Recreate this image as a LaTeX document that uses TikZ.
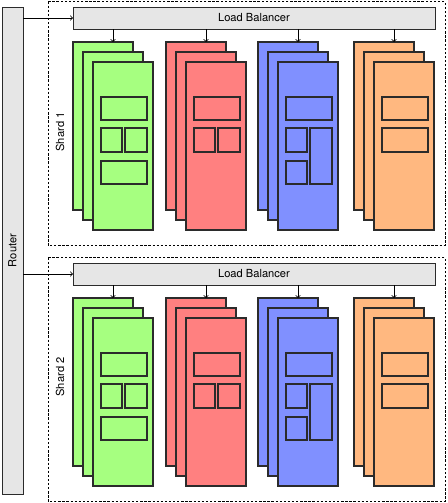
\documentclass[tikz,border=0pt]{standalone}
\usepackage{fontspec}
\setmainfont{TeX Gyre Heros}
\usepackage{graphicx}
\usetikzlibrary{positioning}
\definecolor{srvgreen}{HTML}{A6FF80}
\definecolor{srvred}{HTML}{FF8080}
\definecolor{srvblue}{HTML}{8090FF}
\definecolor{srvorange}{HTML}{FFB880}
\definecolor{boxgray}{HTML}{E6E6E6}
\definecolor{edge}{HTML}{2B2B2B}
\def\pxu{0.03cm}
\tikzset{
  card/.style={draw=edge,line width=0.9pt,anchor=north west,inner sep=0pt,outer sep=0pt,
    minimum width=60*\pxu,minimum height=168*\pxu},
  part/.style={draw=edge,line width=0.9pt},
  bar/.style={draw=edge,fill=boxgray,line width=0.8pt,inner sep=0pt,outer sep=0pt,
    font=\fontsize{9.5}{11}\selectfont},
  shardbox/.style={draw,dash pattern=on 2pt off 1.5pt,line width=0.7pt},
  lbl/.style={font=\fontsize{9.5}{11}\selectfont}
}
\begin{document}
\begin{tikzpicture}[x=\pxu,y=-\pxu]
\useasboundingbox (0,0) rectangle (447,503);
\node[bar,minimum width=21*\pxu,minimum height=487*\pxu] (router) at (12.5,250.5) {\rotatebox{90}{Router}};
% two shards, each behind its own balancer
\foreach \s/\dy/\ly in {1/0/132,2/256/377} {
  \draw[shardbox] (48,1.5+\dy) rectangle (445,245.5+\dy);
  \node[lbl,rotate=90] (shard\s) at (60,\ly) {Shard \s};
  \node[bar,minimum width=362*\pxu,minimum height=22*\pxu] (lb\s) at (254,18+\dy) {Load Balancer};
  \draw[->,line width=0.7pt] (router.east |- lb\s.west) -- (lb\s.west);
  \foreach \c/\x [count=\k] in {srvgreen/73,srvred/166,srvblue/258,srvorange/354} {
    \node[card,fill=\c] (b\s\k) at (\x,42+\dy) {};
    \node[card,fill=\c] (m\s\k) at (\x+10,52+\dy) {};
    \node[card,fill=\c] (f\s\k) at (\x+20,62+\dy) {};
    \draw[->,line width=0.7pt] (lb\s.south -| m\s\k.north) -- (b\s\k.north -| m\s\k.north);
  }
  \begin{scope}[shift={(f\s1.north west)}]
    \draw[part] (8,35) rectangle (54,58);
    \draw[part] (8,66) rectangle (29,90);
    \draw[part] (32,66) rectangle (54,90);
    \draw[part] (8,99) rectangle (54,122);
  \end{scope}
  \begin{scope}[shift={(f\s2.north west)}]
    \draw[part] (8,35) rectangle (54,58);
    \draw[part] (8,66) rectangle (29,90);
    \draw[part] (32,66) rectangle (54,90);
  \end{scope}
  \begin{scope}[shift={(f\s3.north west)}]
    \draw[part] (8,35) rectangle (54,58);
    \draw[part] (8,66) rectangle (29,90);
    \draw[part] (32,66) rectangle (54,122);
    \draw[part] (8,99) rectangle (29,122);
  \end{scope}
  \begin{scope}[shift={(f\s4.north west)}]
    \draw[part] (8,35) rectangle (54,58);
    \draw[part] (8,66) rectangle (54,90);
  \end{scope}
}
\end{tikzpicture}
\end{document}
